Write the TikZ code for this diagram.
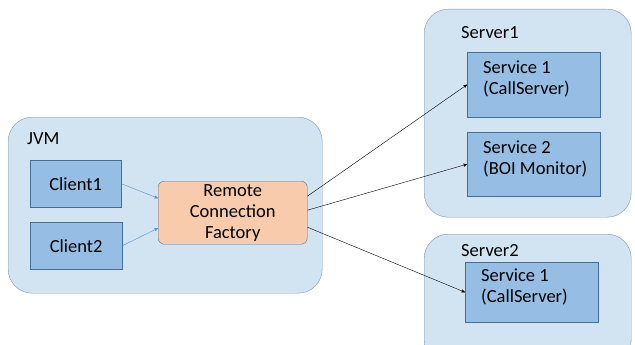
\documentclass[tikz,border=0pt]{standalone}
\usepackage{fontspec}
\setmainfont{Carlito}
\usetikzlibrary{calc}
\usetikzlibrary{arrows}

\definecolor{outerfill}{RGB}{210,227,242}
\definecolor{outerline}{RGB}{120,152,185}
\definecolor{boxfill}{RGB}{150,190,228}
\definecolor{boxline}{RGB}{70,110,155}
\definecolor{rcffill}{RGB}{248,203,173}
\definecolor{linkblue}{RGB}{80,145,210}

\begin{document}
\begin{tikzpicture} [x=1pt,y=-1pt,
 outerbox/.style={draw=outerline, fill=outerfill, rounded corners=24pt, anchor=north west, inner sep=0},
 clientbox/.style={draw=boxline, fill=boxfill, anchor=north west, inner sep=0, font=\fontsize{18.5}{21}\selectfont},
 servicebox/.style={clientbox, align=flush left, text width=101pt, inner xsep=16pt, text depth=35pt},
 caption/.style={anchor=base west, inner sep=0, font=\fontsize{18.5}{21}\selectfont}]
\useasboundingbox (0,0) rectangle (635,345);
% containers
\node[outerbox, minimum width=314, minimum height=176] (jvm) at (8,117) {};
\node[outerbox, minimum width=207, minimum height=208] (server1) at (424,9) {};
\node[outerbox, minimum width=207, minimum height=130] (server2) at (424,234) {};
\node[caption] (jvmlabel) at (27,144) {JVM};
\node[caption] (server1label) at (461,39) {Server1};
\node[caption] (server2label) at (461,256) {Server2};
% boxes
\node[clientbox, minimum width=91, minimum height=47] (client1) at (30,160) {Client1};
\node[clientbox, minimum width=92, minimum height=47] (client2) at (30,222) {Client2};
\node[clientbox, fill=rcffill, draw=boxline!80!gray, rounded corners=6pt, align=center,
 minimum width=149, minimum height=63] (rcf) at (158,181) {Remote\\Connection\\Factory};
\node[servicebox, minimum height=65] (service1) at (467,52) {Service 1\\(CallServer)};
\node[servicebox, minimum height=64] (service2) at (467,132) {Service 2\\\mbox{(BOI Monitor)}};
\node[servicebox, minimum height=60] (service3) at (465,262) {Service 1\\(CallServer)};
% links
\draw[linkblue, ->, >=stealth'] (client1.east) -- ($(rcf.west)+(0,-14.5)$);
\draw[linkblue, ->, >=stealth'] (client2.east) -- ($(rcf.west)+(0,15.5)$);
\draw[black, ->, >=stealth'] ($(rcf.east)+(0,-16.5)$) -- (service1.west);
\draw[black, ->, >=stealth'] ($(rcf.east)+(0,-2.5)$) -- (service2.west);
\draw[black, ->, >=stealth'] ($(rcf.east)+(0,14.5)$) -- (service3.west);
\end{tikzpicture}
\end{document}
